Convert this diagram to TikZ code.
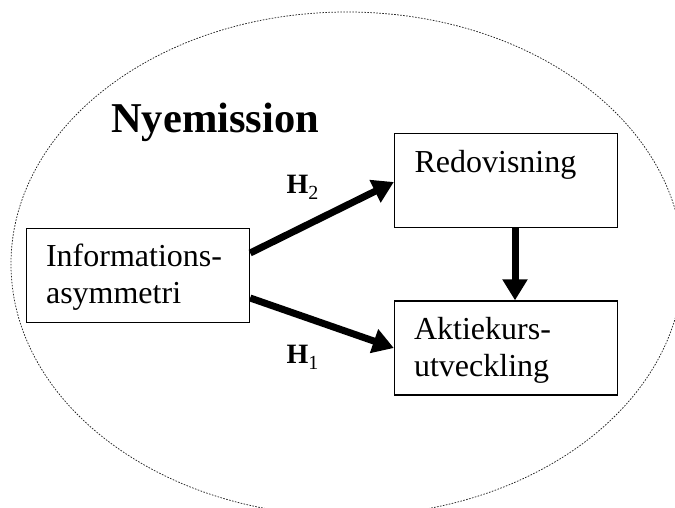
\documentclass[tikz,border=0pt]{standalone}
\usepackage{fontspec}
\setmainfont{Liberation Serif}
\usetikzlibrary{arrows.meta,calc}
\begin{document}
\begin{tikzpicture}[x=1pt,y=-1pt,
  box/.style={draw=black, line width=1.3pt, rectangle, minimum width=223pt, minimum height=94pt, inner sep=0pt},
  boxtext/.style={anchor=base west, inner sep=0pt, align=left, font=\fontsize{32}{37}\selectfont},
  bigarrow/.style={line width=7pt, -{Triangle[length=21pt,width=24pt]}},
  hlabel/.style={anchor=base west, inner sep=0pt, font=\fontsize{28}{30}\selectfont\bfseries},
  title/.style={anchor=base west, inner sep=0pt, font=\fontsize{42.5}{50}\selectfont\bfseries},
  frame/.style={draw=black!85, line width=0.75pt, dash pattern=on 1.6pt off 1.4pt}]
\useasboundingbox (0,0) rectangle (675,508);
\clip (0,0) rectangle (675,508);
\draw[frame] (347,264) ellipse [x radius=336, y radius=252];
\node[title] (nyem) at (111,133) {Nyemission};
\node[box] (info) at (138,275.5) {};
\node[box] (redov) at (506,180.5) {};
\node[box] (aktie) at (506,348) {};
\node[boxtext] (infot) at ($(info.north west)+(20,75.5)$) {Informations-\\asymmetri};
\node[boxtext] (redovt) at ($(redov.north west)+(20.5,40)$) {Redovisning};
\node[boxtext] (aktiet) at ($(aktie.north west)+(20,76.5)$) {Aktiekurs-\\utveckling};
\draw[bigarrow] ([yshift=22.5pt]info.east) -- ([yshift=-1.5pt]redov.west);
\draw[bigarrow] ([yshift=-22.5pt]info.east) -- (aktie.west);
\draw[bigarrow] ([xshift=9pt]redov.south) -- ([xshift=9pt]aktie.north);
\node[hlabel] (h2) at (286.5,193.3) {H\raisebox{-6pt}{\fontsize{20}{20}\selectfont\mdseries 2}};
\node[hlabel] (h1) at (286.5,363) {H\raisebox{-6pt}{\fontsize{20}{20}\selectfont\mdseries 1}};
\end{tikzpicture}
\end{document}
